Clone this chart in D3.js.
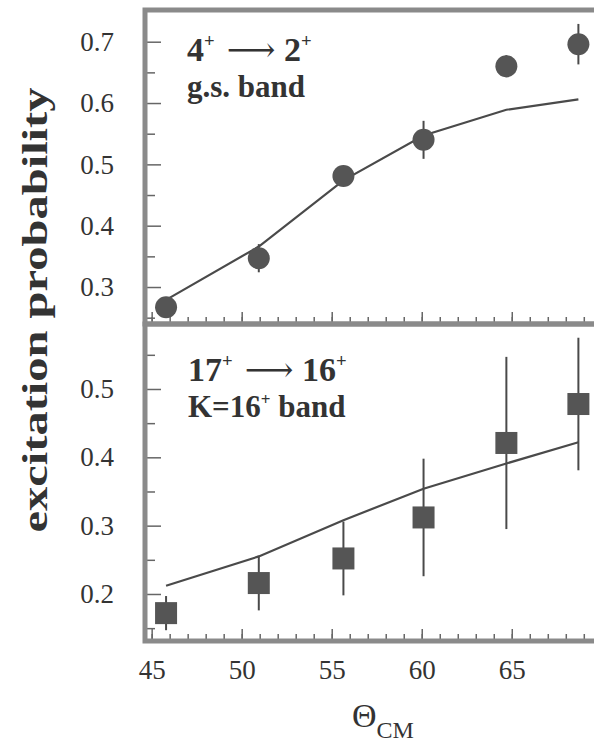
<!DOCTYPE html>
<html><head>
<meta charset="utf-8">
<script src="https://d3js.org/d3.v7.min.js"></script>
<style>
  body { margin: 0; background: #fff; }
  svg { display: block; }
  svg text { font-family: "Times New Roman", "Liberation Serif", "DejaVu Serif", "Noto Serif", Times, serif; }
</style>
</head>
<body>
<svg id="plot" width="594" height="744"></svg>
<script>
// ---- data ----
const thetaCM = [45.8, 50.95, 55.65, 60.1, 64.7, 68.7];

// 4+ -> 2+ g.s. band
const gsExp  = [0.267, 0.347, 0.481, 0.540, 0.660, 0.696];
const gsErr  = [0.010, 0.023, 0.010, 0.031, 0.018, 0.033];
const gsCalc = [0.279, 0.366, 0.474, 0.547, 0.589, 0.606];

// 17+ -> 16+ K=16+ band
const kExp  = [0.172, 0.216, 0.252, 0.312, 0.421, 0.478];
const kErr  = [0.025, 0.040, 0.054, 0.086, 0.126, 0.097];
const kCalc = [0.212, 0.255, 0.308, 0.354, 0.391, 0.422];

const xTickLabels = [45, 50, 55, 60, 65];
const topYLabels = [0.3, 0.4, 0.5, 0.6, 0.7];
const botYLabels = [0.2, 0.3, 0.4, 0.5];

const svg = d3.select("svg#plot");
const frameColor = "#8a8a8a";
const ink = "#4a4a4a";
const textInk = "#333";

const left = 145, right = 600;
const topTop = 10, mid = 324, botBottom = 641;

const x = d3.scaleLinear().domain([44.63, 69.9]).range([left, right]);
const yTop = d3.scaleLinear().domain([0.2397, 0.7517]).range([mid, topTop]);
const yBot = d3.scaleLinear().domain([0.1312, 0.5951]).range([botBottom, mid]);

function drawPanel(y, yMajor, yMinor, exp, err, calc, marker, yLabels, showX) {
  const g = svg.append("g");
  const y0 = y.range()[0], y1 = y.range()[1];

  // y ticks pointing inward
  g.append("g").attr("transform", "translate(" + (left + 2) + ",0)")
    .call(d3.axisRight(y).tickValues(yMinor).tickSize(8).tickFormat(""))
    .call(a => a.select(".domain").remove());
  g.append("g").attr("transform", "translate(" + (left + 2) + ",0)")
    .call(d3.axisRight(y).tickValues(yMajor).tickSize(14).tickFormat(""))
    .call(a => a.select(".domain").remove());
  // y labels
  g.append("g").attr("transform", "translate(114,0)")
    .call(d3.axisLeft(y).tickValues(yLabels).tickSize(0).tickPadding(0).tickFormat(d3.format(".1f")))
    .call(a => a.select(".domain").remove())
    .selectAll("text").attr("font-size", 27).attr("fill", textInk);

  // x ticks pointing up from bottom edge
  g.append("g").attr("transform", "translate(0," + (y0 - 2) + ")")
    .call(d3.axisTop(x).tickValues(d3.range(45, 70, 1)).tickSize(5).tickFormat(""))
    .call(a => a.select(".domain").remove());
  g.append("g").attr("transform", "translate(0," + (y0 - 2) + ")")
    .call(d3.axisTop(x).tickValues(d3.range(45, 70, 5)).tickSize(10).tickFormat(""))
    .call(a => a.select(".domain").remove());
  g.selectAll(".tick line").attr("stroke", "#666").attr("stroke-width", 1.5);

  if (showX) {
    g.append("g").attr("transform", "translate(0," + (y0 + 19) + ")")
      .call(d3.axisBottom(x).tickValues(xTickLabels).tickSize(0).tickPadding(0))
      .call(a => a.select(".domain").remove())
      .selectAll("text").attr("font-size", 27).attr("fill", textInk);
  }

  // calculated curve
  const line = d3.line().x((d, i) => x(thetaCM[i])).y(d => y(d));
  g.append("path").datum(calc).attr("d", line)
    .attr("fill", "none").attr("stroke", ink).attr("stroke-width", 2.2);

  // error bars
  g.selectAll("line.err").data(exp).join("line").attr("class", "err")
    .attr("x1", (d, i) => x(thetaCM[i])).attr("x2", (d, i) => x(thetaCM[i]))
    .attr("y1", (d, i) => y(d - err[i])).attr("y2", (d, i) => y(d + err[i]))
    .attr("stroke", ink).attr("stroke-width", 2);

  // markers
  if (marker === "circle") {
    g.selectAll("circle.pt").data(exp).join("circle").attr("class", "pt")
      .attr("cx", (d, i) => x(thetaCM[i])).attr("cy", d => y(d))
      .attr("r", 11).attr("fill", "#555");
  } else {
    g.selectAll("rect.pt").data(exp).join("rect").attr("class", "pt")
      .attr("x", (d, i) => x(thetaCM[i]) - 11).attr("y", d => y(d) - 11)
      .attr("width", 22).attr("height", 22).attr("fill", "#555");
  }

  // frame
  g.append("rect").attr("x", left).attr("y", y1).attr("width", right - left).attr("height", y0 - y1)
    .attr("fill", "none").attr("stroke", frameColor).attr("stroke-width", 5);
  return g;
}

drawPanel(yTop, [0.3, 0.4, 0.5, 0.6, 0.7], [0.25, 0.35, 0.45, 0.55, 0.65],
          gsExp, gsErr, gsCalc, "circle", topYLabels, false);
drawPanel(yBot, [0.2, 0.3, 0.4, 0.5], [0.15, 0.25, 0.35, 0.45, 0.55],
          kExp, kErr, kCalc, "square", botYLabels, true);

// panel annotations (superscripts via dy, reset on the following piece)
function label(xp, yp, size, parts) {
  const t = svg.append("text").attr("x", xp).attr("y", yp)
    .attr("font-size", size).attr("font-weight", "bold").attr("fill", textInk);
  const lift = size * 0.4;
  let pending = 0;
  parts.forEach(p => {
    const s = t.append("tspan");
    if (p.sup) {
      s.attr("dy", -lift).attr("font-size", size * 0.55).text(p.sup);
      pending = lift;
    } else {
      if (pending) { s.attr("dy", pending); pending = 0; }
      if (p.arrow) s.attr("font-weight", "normal").attr("dx", 12);
      s.text(p.arrow || p.t);
    }
  });
}
label(187, 61, 34, [{t: "4"}, {sup: "+"}, {arrow: "\u27F6"}, {t: "  2"}, {sup: "+"}]);
label(187, 97, 31, [{t: "g.s. band"}]);
label(188, 381, 34, [{t: "17"}, {sup: "+"}, {arrow: "\u27F6"}, {t: "  16"}, {sup: "+"}]);
label(188, 417, 31, [{t: "K=16"}, {sup: "+"}, {t: " band"}]);

// axis titles
svg.append("text")
  .attr("transform", "translate(47,310) rotate(-90)")
  .attr("text-anchor", "middle")
  .attr("font-size", 36).attr("font-weight", "bold").attr("fill", textInk)
  .attr("textLength", 445).attr("lengthAdjust", "spacingAndGlyphs")
  .text("excitation probability");

const xt = svg.append("text").attr("x", 352).attr("y", 727)
  .attr("font-size", 34).attr("fill", textInk);
xt.append("tspan").text("\u0398");
xt.append("tspan").attr("dy", 11).attr("font-size", 24).text("CM");
</script>
</body>
</html>
